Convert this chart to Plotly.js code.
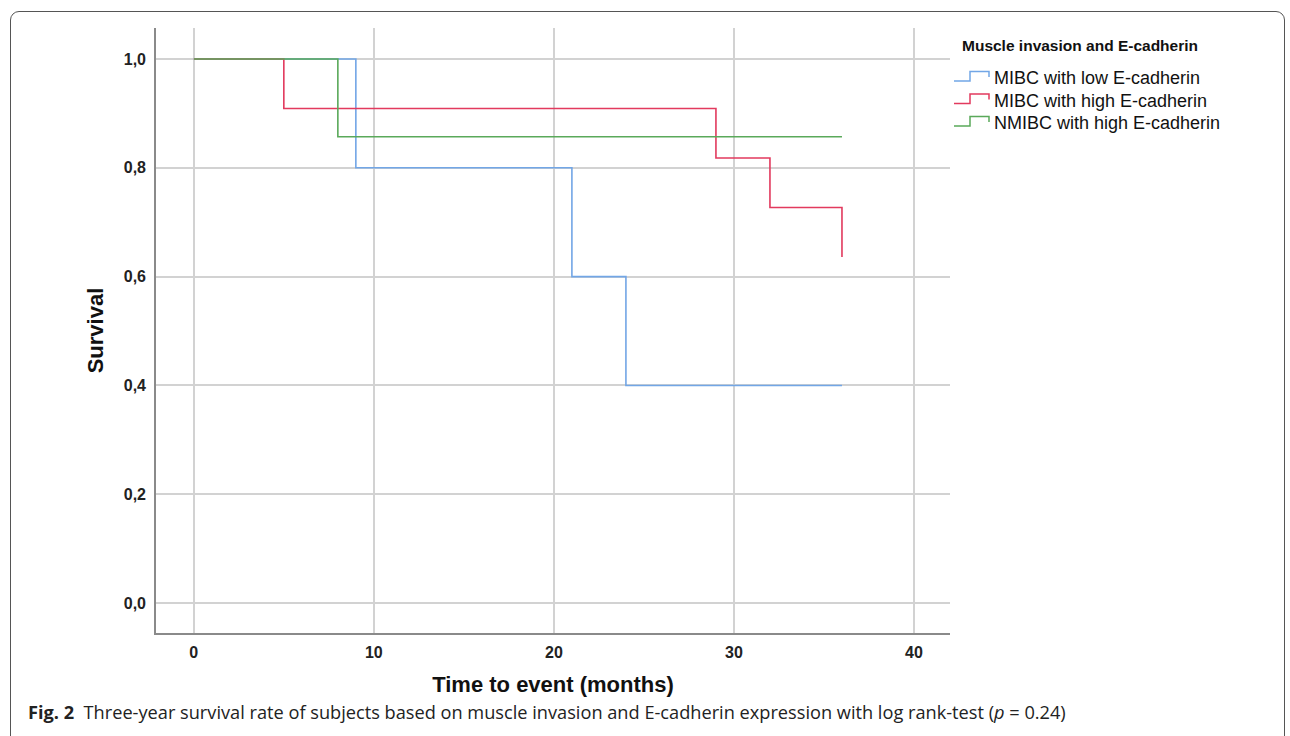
<!DOCTYPE html>
<html>
<head>
<meta charset="utf-8">
<script src="https://cdn.plot.ly/plotly-3.0.1.min.js"></script>
<style>
  html, body { margin: 0; padding: 0; background: #fff; overflow: hidden; }
  #wrap { position: relative; width: 1290px; height: 736px; }
  #chart { position: absolute; left: 0; top: 0; width: 1290px; height: 736px; }
  #frame { position: absolute; left: 10px; top: 11px; width: 1275px; height: 760px;
           border: 1.3px solid #555; border-radius: 9px; pointer-events: none; box-sizing: border-box; }
</style>
</head>
<body>
<div id="wrap">
  <div id="chart"></div>
  <div id="frame"></div>
</div>
<script>
// Kaplan-Meier step data (time in months, cumulative survival)
const seriesNames = ["MIBC with low E-cadherin", "MIBC with high E-cadherin", "NMIBC with high E-cadherin"];
const lowMIBC_time = [0, 9, 21, 24, 36];
const lowMIBC_surv = [1.0, 0.8, 0.6, 0.4, 0.4];
const highMIBC_time = [0, 5, 29, 32, 36, 36];
const highMIBC_surv = [1.0, 0.909, 0.818, 0.727, 0.727, 0.636];
const highNMIBC_time = [0, 8, 36];
const highNMIBC_surv = [1.0, 0.857, 0.857];
const xTicks = [0, 10, 20, 30, 40];
const yTicks = [0, 0.2, 0.4, 0.6, 0.8, 1.0];
const yTickLabels = ["0,0", "0,2", "0,4", "0,6", "0,8", "1,0"];
const legendTitle = "Muscle invasion and E-cadherin";
const colors = ["#72a6e6", "#e23a5e", "#5aa95a"];

// plot-area geometry (pixels) used to place the hand-drawn legend
const M = { l: 156, r: 340, t: 28, b: 103 };
const W = 1290, H = 736;
const pw = W - M.l - M.r, ph = H - M.t - M.b;
const px = v => (v - M.l) / pw;
const py = v => (H - M.b - v) / ph;

const mk = (x, y, i) => ({
  x: x, y: y, name: seriesNames[i], type: "scatter", mode: "lines",
  line: { shape: "hv", color: colors[i], width: 1.6 }, hoverinfo: "x+y+name", showlegend: false
});

const data = [
  mk(lowMIBC_time, lowMIBC_surv, 0),
  mk(highMIBC_time, highMIBC_surv, 1),
  mk(highNMIBC_time, highNMIBC_surv, 2)
];

const tickFont = { family: "Liberation Sans, Arial, sans-serif", size: 16, color: "#222", weight: "bold" };

// legend: title, step-shaped icons and labels
const legendRowY = [78, 100.5, 123];
const annotations = [{
  xref: "paper", yref: "paper", x: px(960), y: py(46), xanchor: "left", yanchor: "middle",
  showarrow: false, text: "<b>" + legendTitle + "</b>",
  font: { family: "Liberation Sans, Arial, sans-serif", size: 15.5, color: "#111" }
}];
const shapes = [];
seriesNames.forEach((name, i) => {
  const cy = legendRowY[i];
  annotations.push({
    xref: "paper", yref: "paper", x: px(992), y: py(cy), xanchor: "left", yanchor: "middle",
    showarrow: false, text: name,
    font: { family: "Liberation Sans, Arial, sans-serif", size: 18, color: "#111" }
  });
  const p = `M ${px(954)} ${py(cy + 3)} L ${px(970)} ${py(cy + 3)} L ${px(970)} ${py(cy - 6.5)} L ${px(989)} ${py(cy - 6.5)} L ${px(989)} ${py(cy - 1)}`;
  shapes.push({ type: "path", xref: "paper", yref: "paper", path: p, line: { color: colors[i], width: 1.5 } });
});

annotations.push({
  xref: "paper", yref: "paper", x: px(26), y: py(712), xanchor: "left", yanchor: "middle",
  showarrow: false, align: "left",
  font: { family: "Open Sans, Noto Sans, sans-serif", size: 18.2, color: "#222" },
  text: "<b>Fig. 2</b>  Three-year survival rate of subjects based on muscle invasion and E-cadherin expression with log rank-test (<i>p</i> = 0.24)"
});

const layout = {
  width: W, height: H,
  margin: M,
  paper_bgcolor: "#fff", plot_bgcolor: "#fff",
  font: { family: "Liberation Sans, Arial, sans-serif", color: "#111" },
  showlegend: false,
  xaxis: {
    range: [-2.1, 42], tickvals: xTicks, ticktext: xTicks.map(String),
    showgrid: true, gridcolor: "#d2d2d2", gridwidth: 1.5, zeroline: false,
    showline: true, linecolor: "#8a8a8a", linewidth: 1.6, ticks: "",
    tickfont: tickFont, ticklabelstandoff: 4,
    title: { text: "<b>Time to event (months)</b>", font: { size: 22, color: "#111" }, standoff: 17 }
  },
  yaxis: {
    range: [-0.055, 1.057], tickvals: yTicks, ticktext: yTickLabels,
    showgrid: true, gridcolor: "#d2d2d2", gridwidth: 1.5, zeroline: false,
    showline: true, linecolor: "#8a8a8a", linewidth: 1.6, ticks: "",
    tickfont: tickFont, ticklabelstandoff: 5,
    title: { text: "<b>Survival</b>", font: { size: 22, color: "#111" }, standoff: 14 }
  },
  shapes: shapes,
  annotations: annotations
};

Plotly.newPlot("chart", data, layout, { displayModeBar: false });
</script>
</body>
</html>
